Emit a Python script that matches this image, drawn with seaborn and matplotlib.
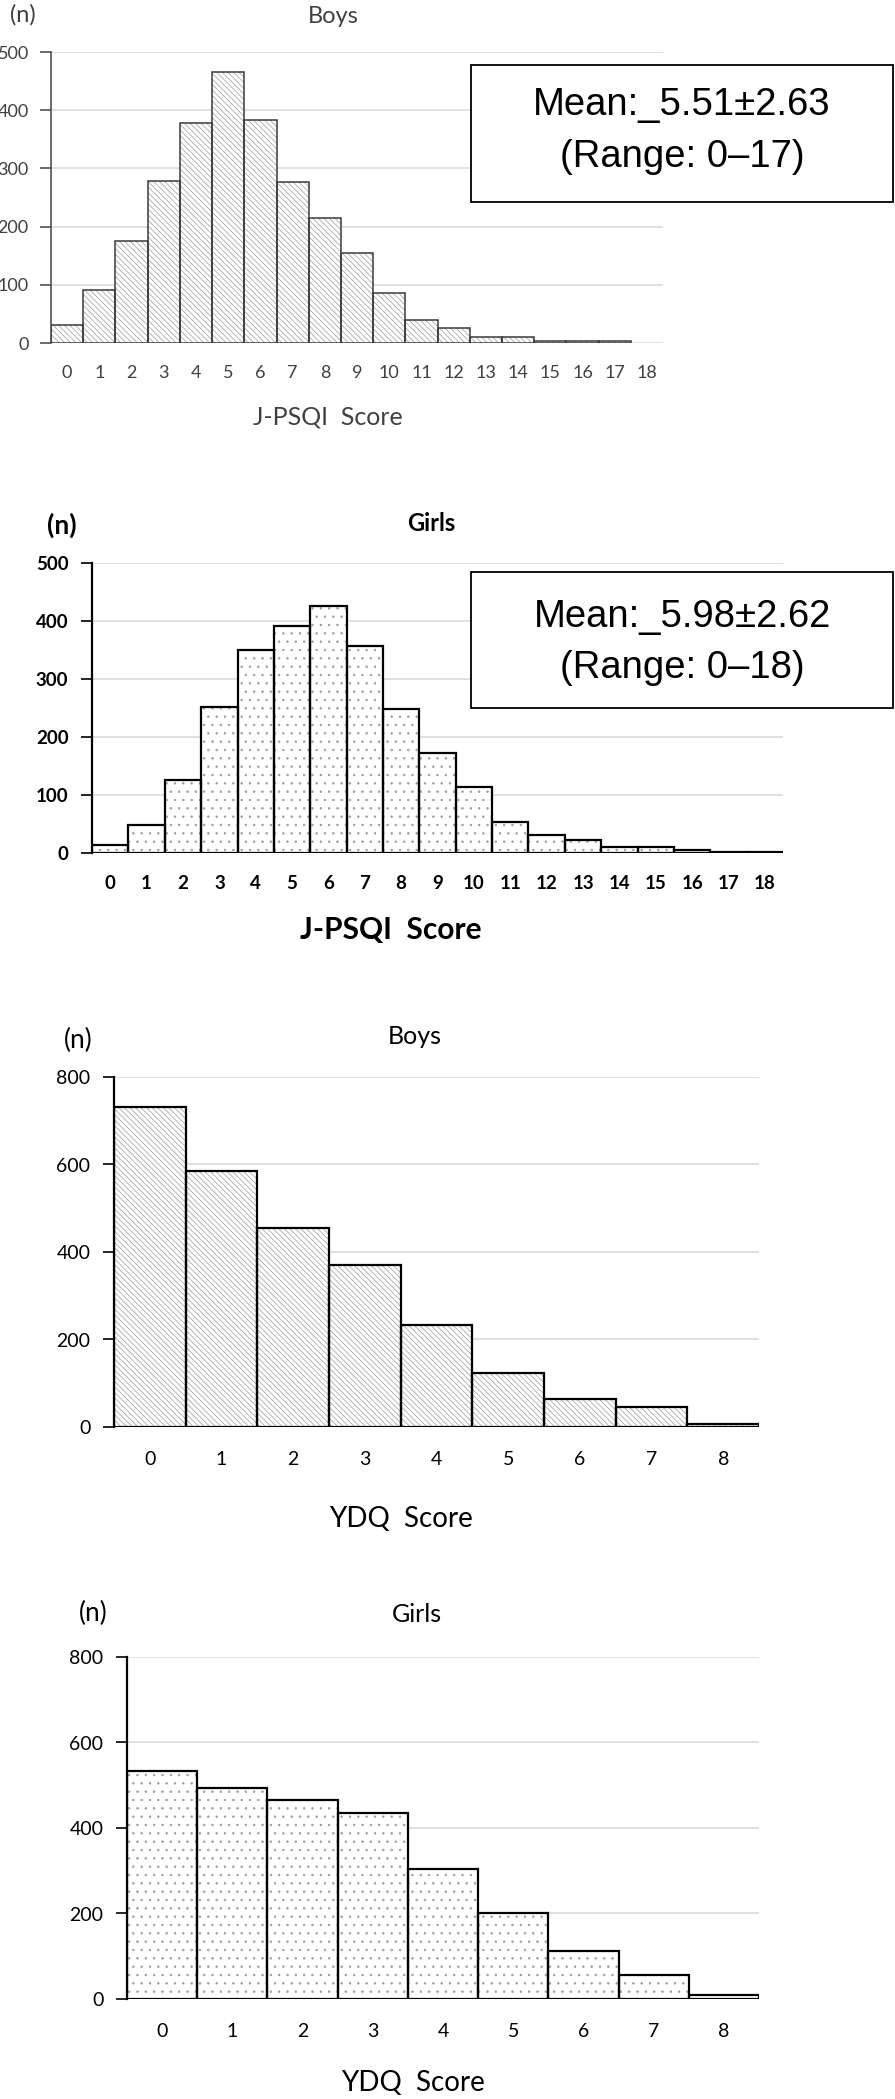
import numpy as np
import pandas as pd
import matplotlib
matplotlib.use("Agg")
import matplotlib.pyplot as plt
from matplotlib.patches import Rectangle
import seaborn as sns

# ---------------- data ----------------
psqi_scores = [str(i) for i in range(19)]
psqi_boys = [31, 91, 175, 279, 378, 466, 383, 277, 214, 155, 86, 39, 26, 11, 11, 4, 4, 4]   # scores 0..17
psqi_girls = [14, 49, 126, 251, 350, 391, 425, 356, 249, 173, 113, 54, 31, 22, 10, 10, 5, 2, 2]  # 0..18
ydq_scores = [str(i) for i in range(9)]
ydq_boys = [731, 584, 454, 371, 234, 123, 64, 46, 6]
ydq_girls = [534, 494, 465, 435, 303, 202, 113, 57, 10]

psqi_yticks = [0, 100, 200, 300, 400, 500]
ydq_yticks = [0, 200, 400, 600, 800]

box_boys = ["Mean:_5.51\u00b12.63", "(Range: 0\u201317)"]
box_girls = ["Mean:_5.98\u00b12.62", "(Range: 0\u201318)"]

# ---------------- style ----------------
sns.set_theme(style="white")
plt.rcParams["font.family"] = ["Lato", "DejaVu Sans"]
plt.rcParams["hatch.linewidth"] = 0.5

W, H = 895, 2099
fig = plt.figure(figsize=(W / 100 + 0.001, H / 100 + 0.001), dpi=100)


def make_ax(l, r, t, b):
    return fig.add_axes([l / W, 1 - b / H, (r - l) / W, (b - t) / H])


def draw_panel(box, cats, vals, order, yticks, hatch, hatch_color, edge_color, lw,
               title, title_pos, xlabel, xlabel_pos, n_pos, tick_fs, title_fs,
               xlabel_fs, n_fs, weight, text_color, spine_color, xpad, ypad):
    l, r, t, b = box
    ax = make_ax(l, r, t, b)
    df = pd.DataFrame({"score": cats[:len(vals)], "n": vals})
    sns.barplot(data=df, x="score", y="n", order=order, width=1.0, color="white",
                edgecolor=hatch_color, hatch=hatch, linewidth=0, ax=ax, zorder=2)
    sns.barplot(data=df, x="score", y="n", order=order, width=1.0, fill=False,
                color=edge_color, edgecolor=edge_color, linewidth=lw, ax=ax, zorder=3)
    ax.set_xlim(-0.5, len(order) - 0.5)
    ax.set_ylim(0, yticks[-1])
    ax.set_yticks(yticks)
    ax.set_axisbelow(True)
    ax.yaxis.grid(True, color="#d9d9d9", lw=1.1)
    ax.xaxis.grid(False)
    for s in ["top", "right", "bottom"]:
        ax.spines[s].set_visible(False)
    ax.spines["left"].set_color(spine_color)
    ax.spines["left"].set_linewidth(1.2 if spine_color != "black" else 1.6)
    ax.tick_params(axis="y", left=True, length=8, width=1.2, color=spine_color,
                   pad=ypad, labelsize=tick_fs, labelcolor=text_color)
    ax.tick_params(axis="x", bottom=False, length=0, pad=xpad, labelsize=tick_fs,
                   labelcolor=text_color)
    for lab in ax.get_xticklabels() + ax.get_yticklabels():
        lab.set_fontweight(weight)

    def axc(px, py):
        return (px - l) / (r - l), (b - py) / (b - t)

    ax.set_xlabel(xlabel, fontsize=xlabel_fs, color=text_color, fontweight=weight, va="center")
    ax.xaxis.set_label_coords(*axc(*xlabel_pos))
    ax.set_ylabel("(n)", fontsize=n_fs, color=text_color, fontweight=weight,
                  rotation=0, va="center", ha="center")
    ax.yaxis.set_label_coords(*axc(*n_pos))
    tx, ty = axc(*title_pos)
    ax.text(tx, ty, title, transform=ax.transAxes, ha="center", va="center",
            fontsize=title_fs, color=text_color, fontweight=weight)
    return ax


def stat_box(l, r, t, b, lines, y1, y2):
    fig.patches.append(Rectangle((l / W, 1 - b / H), (r - l) / W, (b - t) / H,
                                 transform=fig.transFigure, fill=True, facecolor="white",
                                 edgecolor="black", lw=1.3, zorder=5))
    cx = (l + r) / 2 / W
    for txt, yy in zip(lines, (y1, y2)):
        fig.text(cx, 1 - yy / H, txt, ha="center", va="center", fontsize=27.5,
                 family=["Liberation Sans", "DejaVu Sans"], color="black", zorder=6)


# Panel 1: J-PSQI boys
draw_panel((51, 663, 52, 343), psqi_scores, psqi_boys, psqi_scores, psqi_yticks,
           "\\\\\\\\\\\\", "#9a9a9a", "#3a3a3a", 1.1,
           "Boys", (333, 16), "J-PSQI  Score", (328, 417), (23, 15),
           13, 17, 18, 17, "normal", "#404040", "#505050", 16, 8)
stat_box(471, 893, 65, 202, box_boys, 105, 157)

# Panel 2: J-PSQI girls
draw_panel((92, 783, 563, 853), psqi_scores, psqi_girls, psqi_scores, psqi_yticks,
           "..", "#9a9a9a", "black", 1.6,
           "Girls", (431, 523), "J-PSQI  Score", (391, 930), (62, 525),
           13.5, 17, 21.5, 19, "bold", "black", "black", 16, 9)
stat_box(471, 893, 572, 708, box_girls, 617, 668)

# Panel 3: YDQ boys
draw_panel((114, 759, 1077, 1427), ydq_scores, ydq_boys, ydq_scores, ydq_yticks,
           "\\\\\\\\\\\\", "#9a9a9a", "black", 1.6,
           "Boys", (415, 1036), "YDQ  Score", (401, 1519), (78, 1040),
           14, 18, 20, 19, "normal", "black", "black", 17, 9)

# Panel 4: YDQ girls
draw_panel((127, 759, 1657, 1999), ydq_scores, ydq_girls, ydq_scores, ydq_yticks,
           "..", "#9a9a9a", "black", 1.6,
           "Girls", (417, 1614), "YDQ  Score", (413, 2083), (93, 1613),
           14, 18, 20, 19, "normal", "black", "black", 17, 9)

fig.savefig("out.png", dpi=100, facecolor="white")
